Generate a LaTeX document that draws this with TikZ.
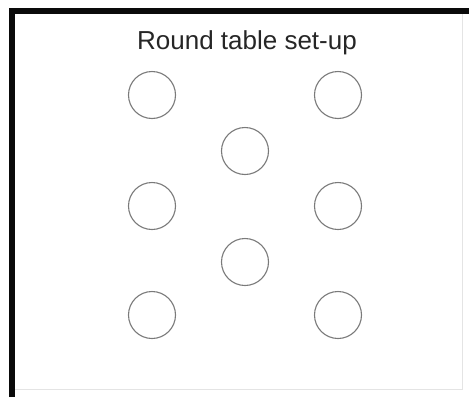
\documentclass[tikz,border=0pt]{standalone}
\usepackage{fontspec}
\setmainfont{Liberation Sans}
\usepackage{tikz}
\usetikzlibrary{positioning}
\definecolor{cFrame}{HTML}{0A0A0A}
\definecolor{cSeat}{HTML}{7A7A7A}
\definecolor{cEdge}{HTML}{E4E4E4}
\tikzset{
  rt/frame/.style={draw=cFrame, line width=5.5pt},
  rt/faint/.style={draw=cEdge, line width=1pt},
  rt/seat/.style ={circle, draw=cSeat, line width=1.1pt, fill=white,
                   minimum size=47pt, inner sep=0pt},
  rt/title/.style={font=\fontsize{26}{30}\selectfont, text=black!85}
}

\begin{document}
\begin{tikzpicture}[x=1pt, y=-1pt]
    \useasboundingbox (0,0) rectangle (469,397);
    % frame: heavy on top and left, faint on the other two sides
    \coordinate (tl) at (12,11);
    \coordinate (tr) at (469,11);
    \coordinate (bl) at (12,397);
    \coordinate (rt) at (462,11);
    \coordinate (rb) at (462,389);
    \coordinate (bb) at (12,389);
    \draw[rt/faint] (rt) -- (rb) -- (bb);
    \draw[rt/frame] (bl) -- (tl) -- (tr);

    \node[rt/title] (title) at (247,43) {Round table set-up};

    % outer tables: three rows, two columns
    \foreach \i/\ypos in {1/95, 2/206, 3/315} {
      \node[rt/seat] (L\i) at (152,\ypos) {};
      \node[rt/seat] (R\i) at (338,\ypos) {};
    }
    % the two tables in the middle column
    \node[rt/seat] (M1) at (245,151) {};
    \node[rt/seat] (M2) at (245,262) {};
\end{tikzpicture}
\end{document}
